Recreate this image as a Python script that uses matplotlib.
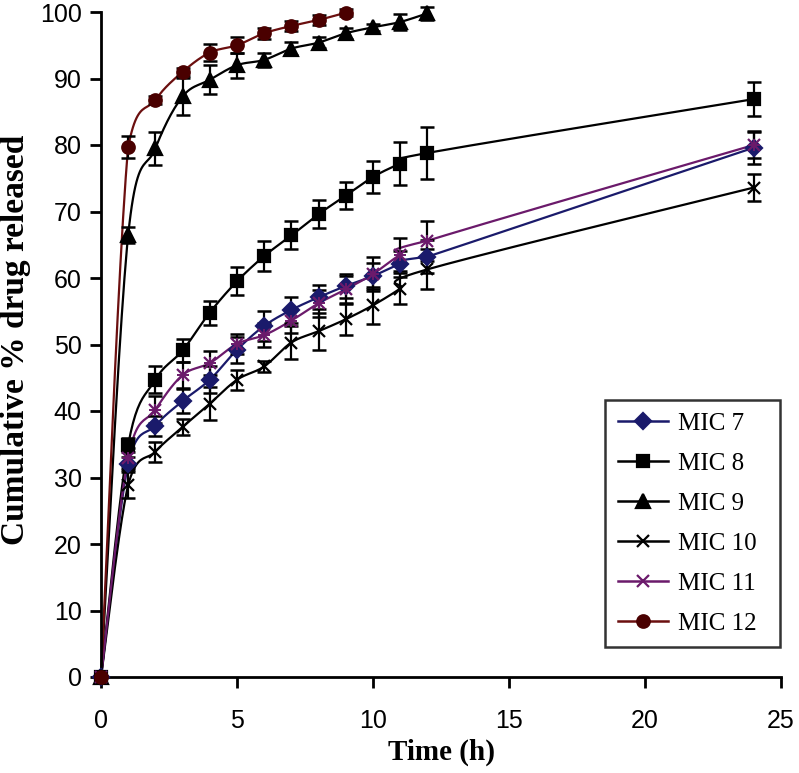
import numpy as np
import matplotlib
matplotlib.use("Agg")
import matplotlib.pyplot as plt
from matplotlib.lines import Line2D

# ---- data ----
time_full = [0, 1, 2, 3, 4, 5, 6, 7, 8, 9, 10, 11, 12, 24]
time_9 = [0, 1, 2, 3, 4, 5, 6, 7, 8, 9, 10, 11, 12]
time_12 = [0, 1, 2, 3, 4, 5, 6, 7, 8, 9]

mic7 = [0, 32.1, 37.8, 41.5, 44.7, 49.2, 52.8, 55.2, 57.1, 58.8, 60.3, 62.1, 63.2, 79.6]
mic7_err = [0, 1.0, 1.5, 1.8, 2.0, 2.0, 2.2, 2.0, 1.8, 1.8, 2.0, 2.0, 2.5, 2.5]
mic8 = [0, 34.9, 44.7, 49.1, 54.8, 59.5, 63.3, 66.4, 69.6, 72.4, 75.2, 77.2, 78.8, 86.9]
mic8_err = [0, 1.0, 2.0, 1.8, 1.8, 2.1, 2.2, 2.1, 2.1, 2.0, 2.4, 3.2, 3.9, 2.6]
mic9 = [0, 66.5, 79.5, 87.3, 89.8, 92.0, 92.8, 94.5, 95.4, 96.8, 97.7, 98.5, 99.8]
mic9_err = [0, 1.2, 2.5, 2.8, 2.2, 1.9, 1.0, 1.0, 0.8, 0.8, 0.5, 1.2, 1.0]
mic10 = [0, 28.9, 33.9, 37.6, 41.1, 44.7, 46.7, 50.3, 52.0, 53.8, 55.9, 58.4, 61.3, 73.6]
mic10_err = [0, 2.0, 1.5, 1.2, 2.5, 1.5, 0.8, 2.5, 2.8, 2.3, 2.8, 2.3, 3.0, 2.0]
mic11 = [0, 33.0, 40.2, 45.4, 47.2, 50.1, 51.4, 53.6, 56.2, 58.3, 60.6, 63.5, 65.6, 80.0]
mic11_err = [0, 1.5, 2.0, 2.0, 1.8, 1.5, 1.8, 1.8, 2.0, 2.0, 2.5, 2.5, 3.0, 2.0]
mic12 = [0, 79.7, 86.8, 91.0, 93.9, 95.0, 96.8, 97.9, 98.8, 99.9]
mic12_err = [0, 1.6, 0.6, 0.6, 1.3, 1.2, 0.8, 0.8, 0.8, 0.5]

labels = ["MIC 7", "MIC 8", "MIC 9", "MIC 10", "MIC 11", "MIC 12"]
x_ticks = [0, 5, 10, 15, 20, 25]
y_ticks = [0, 10, 20, 30, 40, 50, 60, 70, 80, 90, 100]


def smooth(x, y, sx=27.2, sy=6.65, n=24):
    """Excel-like smoothed line (Bezier through points, no overshoot)."""
    P = np.column_stack([np.asarray(x, float) * sx, np.asarray(y, float) * sy])
    pts = [P[0]]
    for i in range(len(P) - 1):
        p0 = P[i - 1] if i > 0 else P[i]
        p1, p2 = P[i], P[i + 1]
        p3 = P[i + 2] if i + 2 < len(P) else P[i + 1]
        c1 = p1 + (p2 - p0) / 6.0
        c2 = p2 - (p3 - p1) / 6.0
        lo, hi = min(p1[1], p2[1]), max(p1[1], p2[1])
        c1[1] = np.clip(c1[1], lo, hi)
        c2[1] = np.clip(c2[1], lo, hi)
        t = np.linspace(0, 1, n)[1:, None]
        seg = ((1 - t) ** 3) * p1 + 3 * ((1 - t) ** 2) * t * c1 + 3 * (1 - t) * t ** 2 * c2 + t ** 3 * p2
        pts.extend(seg)
    pts = np.array(pts)
    return pts[:, 0] / sx, pts[:, 1] / sy


fig = plt.figure(figsize=(7.99, 7.73), dpi=100)
ax = fig.add_axes([101 / 799, 1 - 677 / 773, 680 / 799, 665 / 773])

series = [
    (time_full, mic7, mic7_err, "#1a1a6b", "D", 8, "#1a1a6b"),
    (time_full, mic8, mic8_err, "black", "s", 9, "black"),
    (time_9, mic9, mic9_err, "black", "^", 10, "black"),
    (time_full, mic10, mic10_err, "black", "x", 8, "black"),
    (time_full, mic11, mic11_err, "#6b1a6b", "x", 8, "#6b1a6b"),
    (time_12, mic12, mic12_err, "#6b0f0f", "o", 9, "#4a0000"),
]

handles = []
for (t, v, e, col, mk, ms, mcol), lab in zip(series, labels):
    xs, ys = smooth(t, v)
    ax.plot(xs, ys, color=col, lw=1.6, zorder=2, clip_on=False)
    ax.errorbar(t, v, yerr=e, fmt="none", ecolor="black", elinewidth=1.6,
                capsize=5, capthick=1.8, zorder=3, clip_on=False)
    ax.plot(t, v, linestyle="none", marker=mk, markersize=ms, color=mcol,
            markeredgecolor=mcol, markeredgewidth=1.6, zorder=4, clip_on=False)
    if lab == "MIC 11":
        ax.plot(t, v, linestyle="none", marker="+", markersize=ms, color=mcol,
                markeredgewidth=1.4, zorder=4, clip_on=False)
    handles.append(Line2D([0], [0], color=col, lw=1.8, marker=mk,
                          markersize=ms, markerfacecolor=mcol, markeredgecolor=mcol,
                          markeredgewidth=1.6))

ax.set_xlim(0, 25)
ax.set_ylim(0, 100)
ax.set_xticks(x_ticks)
ax.set_yticks(y_ticks)
for s in ["top", "right"]:
    ax.spines[s].set_visible(False)
for s in ["left", "bottom"]:
    ax.spines[s].set_linewidth(2.0)
ax.tick_params(direction="out", length=8, width=2, pad=6)
for lbl in ax.get_xticklabels() + ax.get_yticklabels():
    lbl.set_fontfamily("Liberation Sans")
    lbl.set_fontsize(18)
ax.tick_params(axis="x", pad=15)

ax.set_xlabel("Time (h)", fontfamily="Liberation Serif", fontweight="bold",
              fontsize=21, labelpad=4)
fig.text(16 / 799, 1 - 340 / 773, "Cumulative % drug released",
         fontfamily="Liberation Serif", fontweight="bold", fontsize=24,
         rotation=90, ha="center", va="center")

leg = ax.legend(handles, labels, loc="lower left",
                bbox_to_anchor=(605 / 799, 1 - 647 / 773, 175 / 799, 244 / 773),
                bbox_transform=fig.transFigure, mode="expand",
                prop={"family": "Liberation Serif", "size": 18},
                frameon=True, fancybox=False, edgecolor="black",
                handlelength=2.0, labelspacing=0.7, borderpad=0.5,
                handletextpad=0.4, borderaxespad=0)
leg.get_frame().set_linewidth(1.8)

fig.savefig("out.png", dpi=100)
